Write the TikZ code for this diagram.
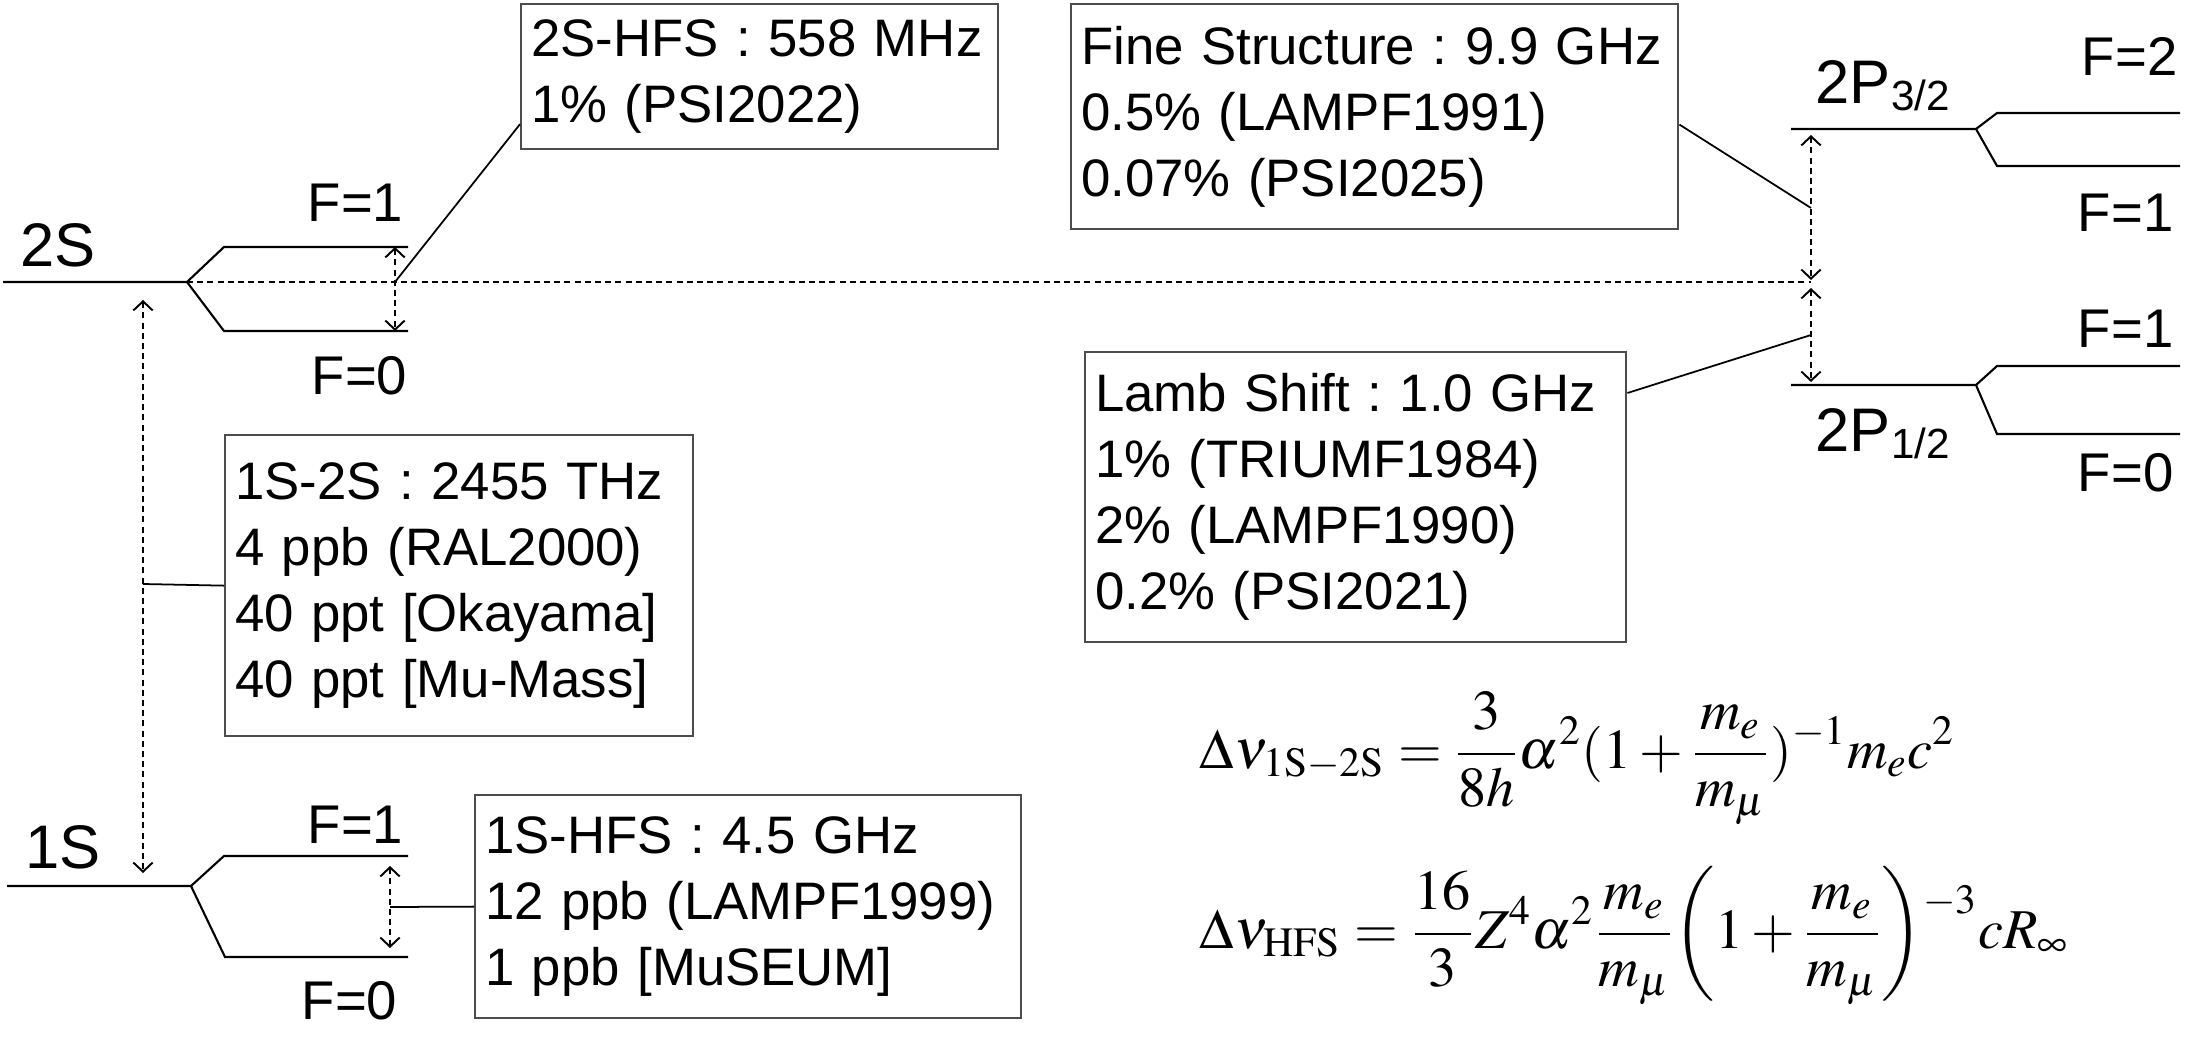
\documentclass[tikz,border=0pt]{standalone}
\usepackage{mathptmx}
\usepackage[no-math]{fontspec}
\setmainfont{Liberation Sans}
\usetikzlibrary{calc,positioning,arrows.meta}
\frenchspacing
\tikzset{
  level/.style={line width=0.6pt},
  conn/.style={line width=0.5pt},
  dashline/.style={line width=0.55pt,dash pattern=on 1.7pt off 1.2pt},
  dasharrow/.style={dashline,{Straight Barb[length=2.6pt,width=5.5pt]}-{Straight Barb[length=2.6pt,width=5.5pt]}},
  databox/.style={draw=black!70,line width=0.6pt,anchor=north west,align=left,
    inner xsep=0.1cm,inner ysep=0pt,font=\fontsize{15}{18.8}\selectfont},
  statelbl/.style={font=\fontsize{17.5}{20}\selectfont,anchor=base west,inner sep=0pt},
  flbl/.style={font=\fontsize{15.5}{18}\selectfont,anchor=base east,inner sep=0pt},
  eqn/.style={font=\fontsize{16}{19}\selectfont,anchor=base west,inner sep=0pt}
}
\newcommand{\subsz}[1]{\raisebox{-1.8pt}{\fontsize{12}{12}\selectfont #1}}
\begin{document}
\begin{tikzpicture}[x=0.01cm,y=-0.01cm]
\useasboundingbox (0,0) rectangle (2200,1037);
% 2S and 1S levels with hyperfine splitting
\draw[level](3,282)--(187,282)--(224,247)--(408,247);
\draw[level](187,282)--(224,331)--(408,331);
\draw[level](7,886)--(191,886)--(224,856)--(408,856);
\draw[level](191,886)--(225,957)--(408,957);
% 2P levels
\draw[level](1791,129)--(1976,129)--(1997,113)--(2180,113);
\draw[level](1976,129)--(1997,166)--(2180,166);
\draw[level](1791,385)--(1976,385)--(1997,366)--(2180,366);
\draw[level](1976,385)--(1997,434)--(2180,434);
\draw[dashline](187,282)--(1811,282);
% level labels
\node[statelbl](lbl2s)at(20,267){2S};
\node[statelbl](lbl1s)at(25,868){1S};
\node[statelbl](lbl2p3)at(1815,104){2P\subsz{3/2}};
\node[statelbl](lbl2p1)at(1815,452){2P\subsz{1/2}};
\node[flbl](f2s1)at(404,222){F=1};
\node[flbl](f2s0)at(408,395){F=0};
\node[flbl](f1s1)at(404,843){F=1};
\node[flbl](f1s0)at(398,1019){F=0};
\node[flbl](f2p2)at(2178,76){F=2};
\node[flbl](f2p1a)at(2174,232){F=1};
\node[flbl](f2p1b)at(2174,348){F=1};
\node[flbl](f2p0)at(2174,492){F=0};
% measurement boxes
\node[databox,text width=4.57cm,minimum height=1.45cm](hfs2)at(520,3)
  {2S-HFS : 558 MHz\\1\% (PSI2022)};
\node[databox,text width=5.87cm,minimum height=2.25cm](fs)at(1070,3)
  {Fine Structure : 9.9 GHz\\0.5\% (LAMPF1991)\\0.07\% (PSI2025)};
\node[databox,text width=5.21cm,minimum height=2.90cm](lamb)at(1084,351)
  {Lamb Shift : 1.0 GHz\\1\% (TRIUMF1984)\\2\% (LAMPF1990)\\0.2\% (PSI2021)};
\node[databox,text width=4.48cm,minimum height=3.01cm](ones2s)at(224,434)
  {1S-2S : 2455 THz\\4 ppb (RAL2000)\\40 ppt [Okayama]\\40 ppt [Mu-Mass]};
\node[databox,text width=5.26cm,minimum height=2.23cm](hfs1)at(474,794)
  {1S-HFS : 4.5 GHz\\12 ppb (LAMPF1999)\\1 ppb [MuSEUM]};
% intervals
\coordinate(m2s)at(395,282);
\coordinate(m12)at(143,584);
\coordinate(m1s)at(390,907);
\coordinate(mfs)at(1811,208);
\coordinate(mls)at(1811,335);
\draw[dasharrow](395,247)--(395,331);
\draw[dasharrow](143,300)--(143,873);
\draw[dasharrow](390,866)--(390,948);
\draw[dasharrow](1811,135)--(1811,280);
\draw[dasharrow](1811,288)--(1811,382);
\draw[conn](m2s)--($(hfs2.south west)+(0,-26)$);
\draw[conn](m12)--(ones2s.west);
\draw[conn](m1s)--(hfs1.west);
\draw[conn](mfs)--($(fs.east)+(0,8)$);
\draw[conn](mls)--($(lamb.north east)+(0,42)$);
% formulas
\node[eqn](eq1s2s)at(1199,768)
  {$\displaystyle\Delta\nu_{\mathrm{1S-2S}}=\frac{3}{8h}\alpha^2(1+\frac{m_e}{m_\mu})^{-1}m_ec^2$};
\node[eqn](eqhfs)at(1199,948)
  {$\displaystyle\Delta\nu_{\mathrm{HFS}}=\frac{16}{3}Z^4\alpha^2\frac{m_e}{m_\mu}\!\left(1+\frac{m_e}{m_\mu}\right)^{\raisebox{-0.55em}{$\scriptstyle-3$}}\!cR_\infty$};
\end{tikzpicture}
\end{document}
